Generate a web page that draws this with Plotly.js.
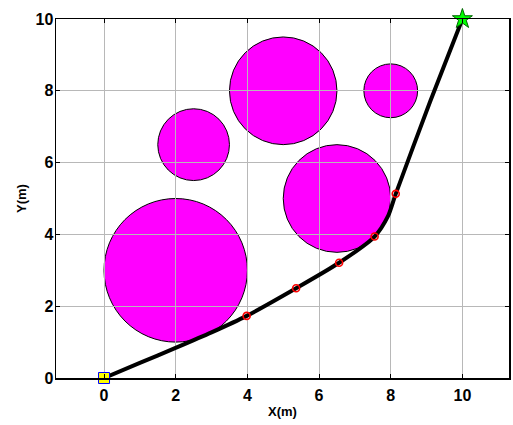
<!DOCTYPE html>
<html>
<head>
<meta charset="utf-8">
<script src="https://cdn.plot.ly/plotly-3.0.1.min.js"></script>
<style>html,body{margin:0;padding:0;background:#fff;}#chart{width:513px;height:425px;}</style>
</head>
<body>
<div id="chart"></div>
<script>
// Obstacles (circles)
var obstacleX = [2, 2.5, 5, 6.5, 8];
var obstacleY = [3, 6.5, 8, 5, 8];
var obstacleR = [2, 1, 1.5, 1.5, 0.75];

// Planned path
var pathX = [0, 1, 1.98, 3.0, 3.98, 5.36, 6.56, 7.55, 7.92, 8.14, 9.1, 10];
var pathY = [0, 0.42, 0.83, 1.27, 1.73, 2.50, 3.21, 3.94, 4.5, 5.13, 7.7, 10];

// Waypoints
var wayX = [3.98, 5.36, 6.56, 7.55, 8.14];
var wayY = [1.73, 2.50, 3.21, 3.94, 5.13];

var startX = [0], startY = [0];
var goalX = [10], goalY = [10];

var xTicks = [0, 2, 4, 6, 8, 10];
var yTicks = [0, 2, 4, 6, 8, 10];

var shapes = obstacleX.map(function (cx, i) {
  return {
    type: 'circle', xref: 'x', yref: 'y', layer: 'below',
    x0: cx - obstacleR[i], x1: cx + obstacleR[i],
    y0: obstacleY[i] - obstacleR[i], y1: obstacleY[i] + obstacleR[i],
    fillcolor: '#ff00ff', line: {color: '#000000', width: 1}
  };
});

var traces = [
  {x: pathX, y: pathY, mode: 'lines', line: {color: '#000', width: 4, shape: 'spline', smoothing: 0.7}, hoverinfo: 'skip'},
  {x: wayX, y: wayY, mode: 'markers', marker: {symbol: 'circle-open', size: 7, color: '#ff0000', line: {width: 1.6, color: '#ff0000'}}, cliponaxis: false},
  {x: startX, y: startY, mode: 'markers', marker: {symbol: 'square', size: 11, color: '#ffff00', line: {width: 1, color: '#0000ff'}}, cliponaxis: false},
  {x: goalX, y: goalY, mode: 'markers', marker: {symbol: 'star', size: 15, color: '#00ff00', line: {width: 1, color: '#006400'}}, cliponaxis: false}
];

var font = 'Liberation Sans';
var axisCommon = {
  showline: true, mirror: 'ticks', linecolor: '#000', linewidth: 1.5,
  ticks: 'inside', ticklen: 4, tickcolor: '#000', tickwidth: 1,
  showgrid: true, gridcolor: '#b8b8b8', gridwidth: 1, zeroline: false,
  tickfont: {family: font, size: 16, color: '#000'}
};

function bold(s) { return '<b>' + s + '</b>'; }

var layout = {
  width: 513, height: 425,
  margin: {l: 56, r: 4, t: 19, b: 47},
  paper_bgcolor: '#fff', plot_bgcolor: '#fff',
  showlegend: false,
  shapes: shapes,
  xaxis: Object.assign({}, axisCommon, {
    range: [-1.34, 11.3], tickvals: xTicks, ticktext: xTicks.map(function (v) { return bold(String(v)); }),
    ticklabelstandoff: 2,
    title: {text: bold('X(m)'), font: {family: font, size: 13, color: '#000'}, standoff: 4}
  }),
  yaxis: Object.assign({}, axisCommon, {
    range: [0, 10], tickvals: yTicks, ticktext: yTicks.map(function (v) { return bold(String(v)); }),
    ticklabelstandoff: -2,
    title: {text: bold('Y(m)'), font: {family: font, size: 13, color: '#000'}, standoff: 6}
  })
};

Plotly.newPlot('chart', traces, layout, {displayModeBar: false, staticPlot: true});
</script>
</body>
</html>
